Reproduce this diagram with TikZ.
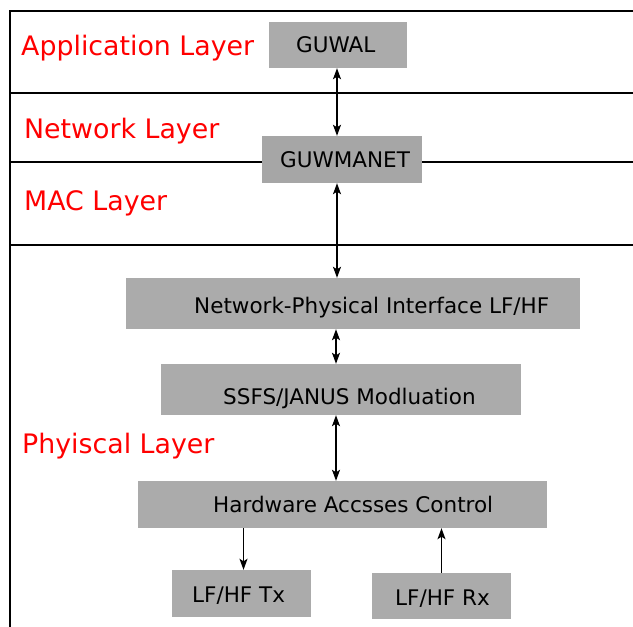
\documentclass[tikz,border=0pt]{standalone}
\usepackage{fontspec}
\setmainfont{DejaVu Sans}
\usetikzlibrary{arrows.meta}

\definecolor{boxgray}{HTML}{ABABAB}
\definecolor{boxdark}{HTML}{A6A6A6}

\tikzset{
	layerbox/.style={fill=boxgray,draw=none,inner sep=0pt},
	boxtext/.style={anchor=base west,inner sep=0pt,font=\fontsize{21.5}{25}\selectfont},
	layername/.style={anchor=base west,inner sep=0pt,text=red,font=\fontsize{26.8}{30}\selectfont},
	sep/.style={line width=1.2pt},
	link/.style={line width=1.3pt,{Stealth[length=11pt,width=8pt,inset=2.5pt]}-{Stealth[length=11pt,width=8pt,inset=2.5pt]}},
	onelink/.style={line width=1.3pt,-{Stealth[length=11pt,width=8pt,inset=2.5pt]}}
}

\begin{document}
\begin{tikzpicture}[x=1pt,y=-1pt]
		\useasboundingbox (0,0) rectangle (633,627);
	
		% frame and layer borders
		\draw[sep] (10,627) -- (10,11) -- (633,11);
		\draw[sep] (10,93) -- (633,93);
		\draw[sep] (10,245) -- (633,245);
		\coordinate (midleft) at (10,162);
		\coordinate (midright) at (633,162);
		
		\node[layername] (app) at (21,55) {Application Layer};
		\node[layername] (net) at (24,138) {Network Layer};
		\node[layername] (mac) at (24,210) {MAC Layer};
		\node[layername] (phy) at (22,453) {Phyiscal Layer};
		
		\node[layerbox,minimum width=138pt,minimum height=46pt] (guwal) at (338,45) {};
		\node[layerbox,fill=boxdark,minimum width=160pt,minimum height=47pt] (guwmanet) at (342,159.5) {};
		\node[layerbox,minimum width=454pt,minimum height=51pt] (netphy) at (353,303.5) {};
		\node[layerbox,minimum width=360pt,minimum height=51pt] (ssfs) at (341,389.5) {};
		\node[layerbox,minimum width=409pt,minimum height=47pt] (hwac) at (342.5,504.5) {};
		\node[layerbox,minimum width=139pt,minimum height=47pt] (tx) at (241.5,593.5) {};
		\node[layerbox,minimum width=139pt,minimum height=46pt] (rx) at (441.5,596) {};
		
		\draw[sep] (midleft) -- (midleft -| guwmanet.west);
		\draw[sep] (midright -| guwmanet.east) -- (midright);
		
		\node[boxtext] (guwaltext) at (296,52) {GUWAL};
		\node[boxtext] (guwmanettext) at (280,167) {GUWMANET};
		\node[boxtext] (netphytext) at (194,313) {Network-Physical Interface LF/HF};
		\node[boxtext] (ssfstext) at (223,404) {SSFS/JANUS Modluation};
		\node[boxtext] (hwactext) at (213,512) {Hardware Accsses Control};
		\node[boxtext] (txtext) at (192,602) {LF/HF Tx};
		\node[boxtext] (rxtext) at (395,605) {LF/HF Rx};
		
		\draw[link] ([xshift=-1pt]guwal.south) -- ([xshift=-1pt]guwal.south |- guwmanet.north);
		\draw[link] ([xshift=-5pt]guwmanet.south) -- ([xshift=-5pt]guwmanet.south |- netphy.north);
		\draw[link] ([xshift=-5pt]ssfs.north |- netphy.south) -- ([xshift=-5pt]ssfs.north);
		\draw[link] ([xshift=-5pt]ssfs.south) -- ([xshift=-5pt]ssfs.south |- hwac.north);
		\draw[onelink] ([xshift=2pt]tx.north |- hwac.south) -- ([xshift=2pt]tx.north);
		\draw[onelink] (rx.north) -- (rx.north |- hwac.south);
	\end{tikzpicture}
\end{document}
